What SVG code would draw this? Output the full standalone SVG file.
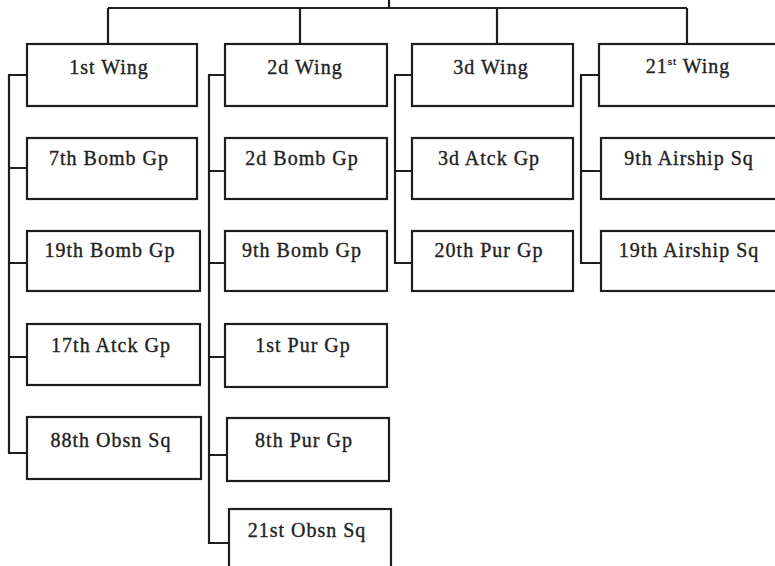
<svg xmlns="http://www.w3.org/2000/svg" width="775" height="566" viewBox="0 0 775 566">
<style>
.box{fill:#fff;stroke:#1e1e1e;stroke-width:2.2}
.con{fill:none;stroke:#1e1e1e;stroke-width:2.2}
text{font-family:"Liberation Serif","Times New Roman",serif;font-size:20px;fill:#222;stroke:#222;stroke-width:0.35;text-anchor:middle;letter-spacing:1px}
</style>
<rect width="775" height="566" fill="#fff"/>
<g id="connectors" class="con">
<path d="M389 0V8M108 8H687M108 8V44M300 8V44M497 8V44M687 8V44"/>
<path d="M27 75H9V453H27M9 168H27M9 263H27M9 357H27"/>
<path d="M225 75H209V543H229M209 171H225M209 263H225M209 357H225M209 455H227"/>
<path d="M412 75H395V263H412M395 171H412"/>
<path d="M599 75H581V263H601M581 171H601"/>
</g>
<g id="n1stWing"><rect class="box" x="27" y="44" width="170" height="62"/><text x="109" y="74">1st Wing</text></g>
<g id="n2dWing"><rect class="box" x="225" y="44" width="162" height="62"/><text x="305" y="74">2d Wing</text></g>
<g id="n3dWing"><rect class="box" x="412" y="44" width="161" height="62"/><text x="491" y="74">3d Wing</text></g>
<g id="n21stWing"><rect class="box" x="599" y="44" width="180" height="62"/><text x="688" y="73">21<tspan font-size="11" dy="-8">st</tspan><tspan dy="8"> Wing</tspan></text></g>
<g id="n7thBomb"><rect class="box" x="27" y="138" width="170" height="61"/><text x="109" y="165">7th Bomb Gp</text></g>
<g id="n19thBomb"><rect class="box" x="27" y="231" width="173" height="60"/><text x="110" y="257">19th Bomb Gp</text></g>
<g id="n17thAtck"><rect class="box" x="27" y="324" width="173" height="61"/><text x="111" y="352">17th Atck Gp</text></g>
<g id="n88thObsn"><rect class="box" x="27" y="417" width="174" height="62"/><text x="111" y="447">88th Obsn Sq</text></g>
<g id="n2dBomb"><rect class="box" x="225" y="138" width="162" height="61"/><text x="302" y="165">2d Bomb Gp</text></g>
<g id="n9thBomb"><rect class="box" x="225" y="231" width="162" height="60"/><text x="302" y="257">9th Bomb Gp</text></g>
<g id="n1stPur"><rect class="box" x="225" y="324" width="162" height="63"/><text x="303" y="352">1st Pur Gp</text></g>
<g id="n8thPur"><rect class="box" x="227" y="418" width="162" height="63"/><text x="304" y="447">8th Pur Gp</text></g>
<g id="n21stObsn"><rect class="box" x="229" y="509" width="162" height="70"/><text x="307" y="537">21st Obsn Sq</text></g>
<g id="n3dAtck"><rect class="box" x="412" y="138" width="161" height="61"/><text x="489" y="165">3d Atck Gp</text></g>
<g id="n20thPur"><rect class="box" x="412" y="231" width="161" height="60"/><text x="489" y="257">20th Pur Gp</text></g>
<g id="n9thAirship"><rect class="box" x="601" y="138" width="180" height="61"/><text x="689" y="165">9th Airship Sq</text></g>
<g id="n19thAirship"><rect class="box" x="601" y="231" width="180" height="60"/><text x="689" y="257">19th Airship Sq</text></g>
</svg>
